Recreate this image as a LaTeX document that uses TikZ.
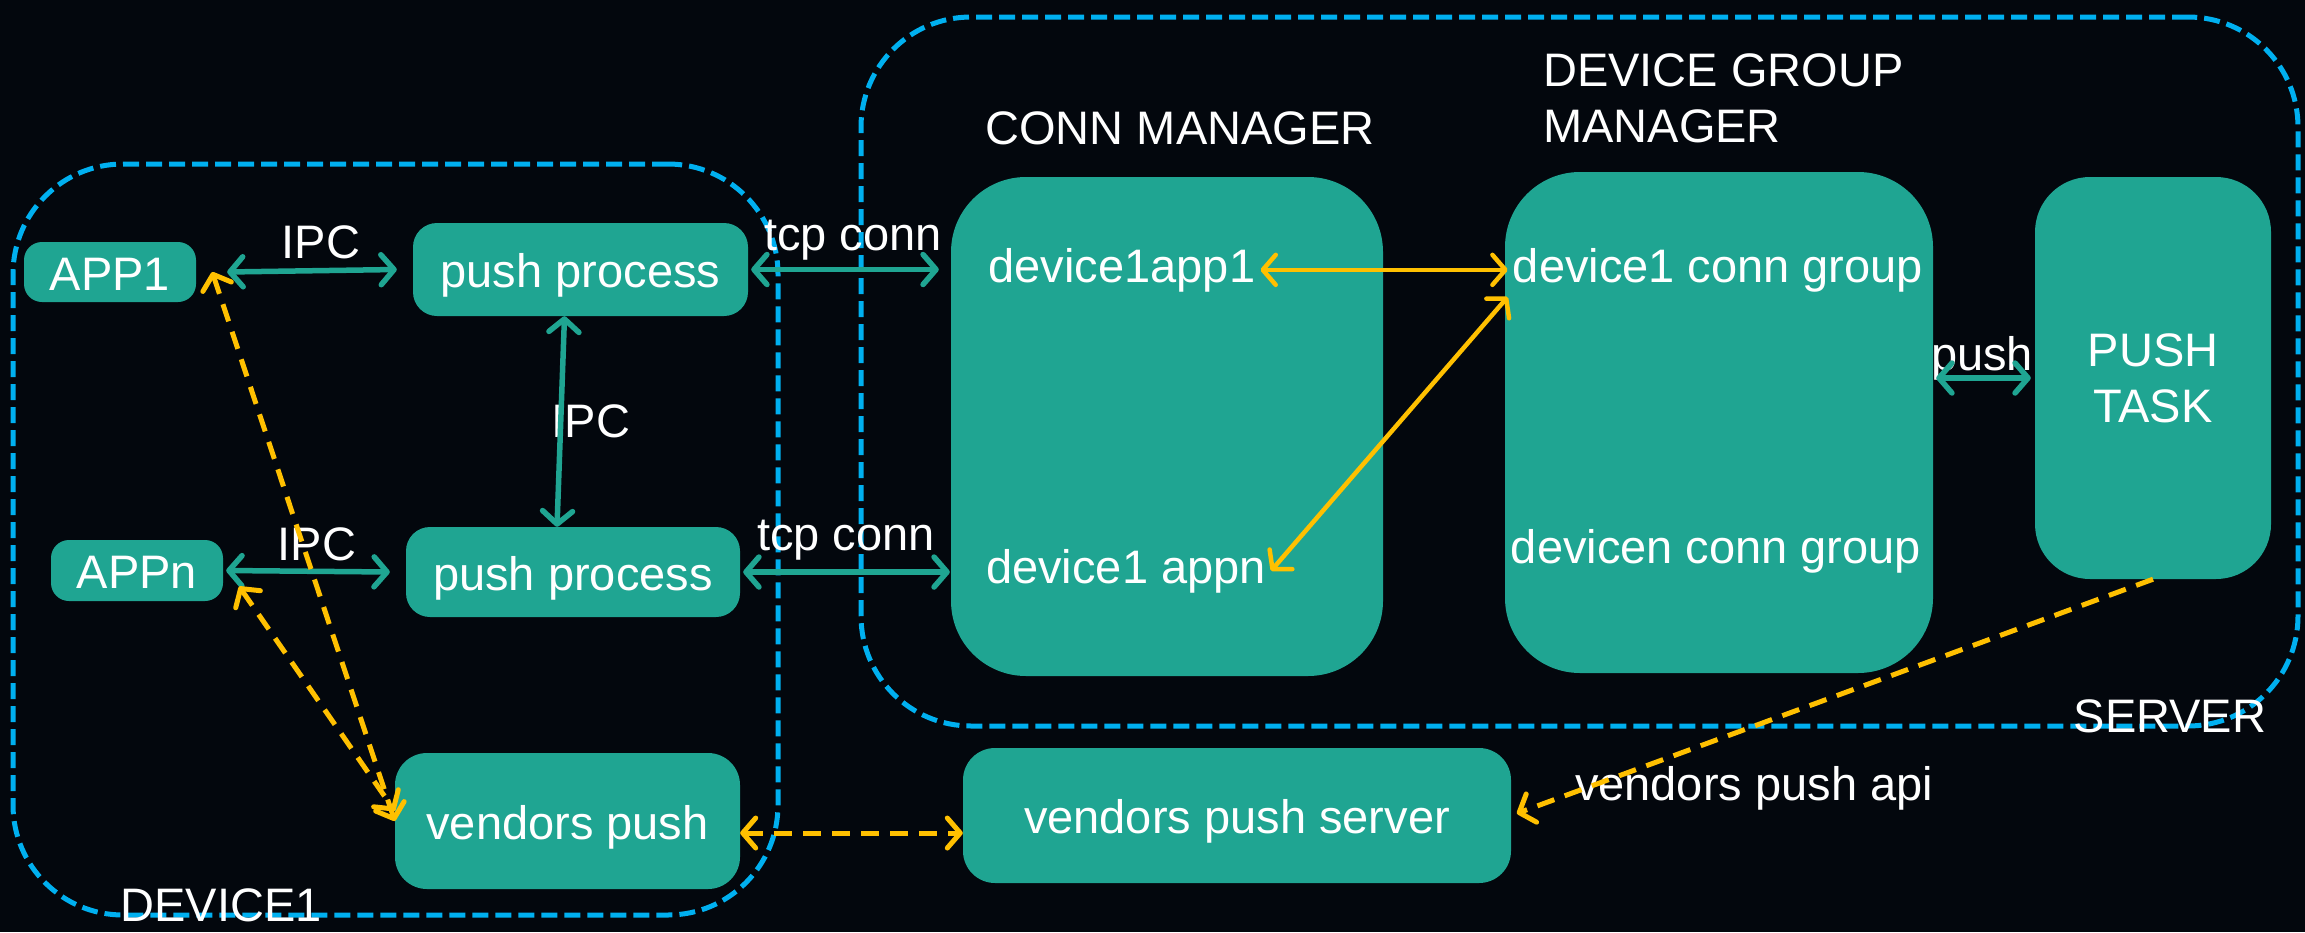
\documentclass[tikz,border=0pt]{standalone}
\usepackage{fontspec}
\setmainfont{Liberation Sans}
\usetikzlibrary{arrows.meta}
\definecolor{spacebg}{HTML}{03070D}
\definecolor{tealbox}{HTML}{1FA592}
\definecolor{goldline}{HTML}{FFC000}
\definecolor{zoneblue}{HTML}{00B0F0}

\begin{document}
\begin{tikzpicture}[x=1pt,y=-1pt,
  font=\fontsize{47}{56}\selectfont,
  >={Straight Barb[length=13pt,width=30pt,round]},
  every node/.style={text=white},
  box/.style={fill=tealbox, rounded corners=#1, inner sep=0pt, text height=36pt, text depth=0pt},
  bigbox/.style={fill=tealbox, rounded corners=#1, inner sep=0pt},
  lbl/.style={inner sep=0pt, anchor=base},
  inlbl/.style={inner sep=5pt, anchor=base},
  zone/.style={draw=zoneblue, line width=5pt, dash pattern=on 16pt off 7pt, rounded corners=110pt, inner sep=0pt},
  ipc/.style={draw=tealbox, line width=5.5pt, <->},
  sync/.style={draw=goldline, line width=4.5pt, <->},
  vendor/.style={draw=goldline, line width=5pt, dash pattern=on 18pt off 11pt}
]
\fill[spacebg] (0,0) rectangle (2305,932);
\useasboundingbox (0,0) rectangle (2305,932);

\node[zone, minimum width=765pt, minimum height=751pt] (device) at (395.5,539.5) {};
\node[zone, minimum width=1437pt, minimum height=709pt] (server) at (1579.5,371.5) {};

\node[box=18pt, minimum width=172pt, minimum height=60pt] (app1) at (110,272) {APP1};
\node[box=18pt, minimum width=172pt, minimum height=61pt] (appn) at (137,570.5) {APPn};
\node[box=24pt, minimum width=335pt, minimum height=93pt] (push1) at (580.5,269.5) {push process};
\node[box=24pt, minimum width=334pt, minimum height=90pt] (push2) at (573,572) {push process};
\node[box=32pt, minimum width=345pt, minimum height=136pt] (vp) at (567.5,821) {vendors push};
\node[box=32pt, minimum width=548pt, minimum height=135pt] (vps) at (1237,815.5) {vendors push server};
\node[bigbox=75pt, minimum width=432pt, minimum height=499pt] (conn) at (1167,426.5) {};
\node[bigbox=75pt, minimum width=428pt, minimum height=501pt] (dgm) at (1719,422.5) {};
\node[bigbox=55pt, minimum width=236pt, minimum height=402pt, align=center] (ptask) at (2153,378) {PUSH\\TASK};

\node[lbl] (ipc1) at (321,258) {IPC};
\node[lbl] (ipc2) at (591,437) {IPC};
\node[lbl] (ipc3) at (317,560) {IPC};
\node[lbl] (tcp1) at (853,250) {tcp conn};
\node[lbl] (tcp2) at (846,550) {tcp conn};
\node[lbl] (connttl) at (1180,144) {CONN MANAGER};
\node[lbl, anchor=north west, align=left] (dgmttl) at (1543,53) {DEVICE GROUP\\MANAGER};
\node[inlbl] (d1app1) at (1122,282) {device1app1};
\node[inlbl] (d1appn) at (1126,583) {device1 appn};
\node[inlbl] (d1grp) at (1718,282) {device1 conn group};
\node[inlbl] (dngrp) at (1716,563) {devicen conn group};
\node[lbl] (pushlbl) at (1982,370) {push};
\node[lbl] (srvttl) at (2170,732) {SERVER};
\node[lbl] (apilbl) at (1754,800) {vendors push api};
\node[lbl] (devttl) at (221,921) {DEVICE1};

\draw[ipc] ([xshift=31pt]app1.east) -- ([xshift=-16pt]push1.west);
\draw[ipc] ([xshift=-16pt]push1.south) -- ([xshift=-16pt]push2.north);
\draw[ipc] ([xshift=3pt]appn.east) -- ([xshift=-16pt]push2.west);
\draw[ipc, shorten >=12pt] ([xshift=3pt]push1.east) -- (push1.east -| conn.west);
\draw[ipc, shorten >=1pt] ([xshift=3pt]push2.east) -- (push2.east -| conn.west);
\draw[ipc, shorten <=3pt, shorten >=4pt] (ptask.west -| dgm.east) -- (ptask.west);

\draw[sync] (d1app1.east) -- (d1grp.west);
\draw[sync] (d1grp.south west) -- (d1appn.east);
\draw[vendor, <->] ([xshift=16pt]app1.east) -- (vp.west);
\draw[vendor, <->] ([xshift=16pt,yshift=-16pt]appn.east) -- ([yshift=10pt]vp.west);
\draw[vendor, <->] ([yshift=-12pt]vp.east) -- ([yshift=-12pt]vp.east -| vps.west);
\draw[vendor, ->, shorten >=6pt] (ptask.south) -- (vps.east);
\end{tikzpicture}
\end{document}
